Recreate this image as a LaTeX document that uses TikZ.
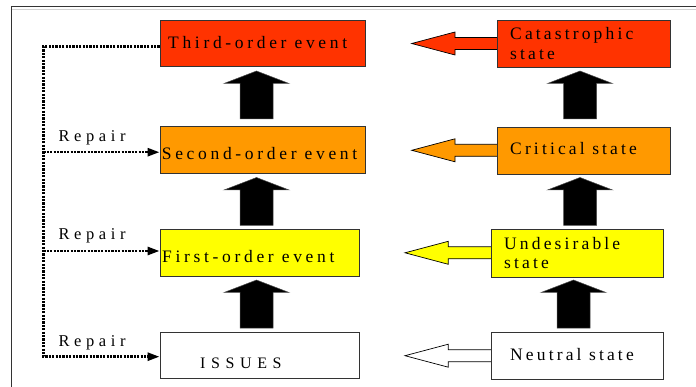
\documentclass[tikz,border=0pt]{standalone}
\usepackage{fontspec}
\setmainfont{Liberation Serif}
\usetikzlibrary{arrows.meta}
\definecolor{cred}{HTML}{FF3300}
\definecolor{corange}{HTML}{FF9900}
\definecolor{cyellow}{HTML}{FFFF00}
\definecolor{cborder}{HTML}{333333}
\tikzset{
  box/.style={draw=cborder, line width=0.9pt, inner sep=0pt, rectangle},
  lbl/.style={font=\fontsize{17.5}{21}\selectfont\addfontfeature{LetterSpace=18}, anchor=base west, inner sep=0pt, text=black},
  evlbl/.style={lbl, font=\fontsize{17.5}{21}\selectfont\addfontfeature{LetterSpace=21}},
  replbl/.style={font=\fontsize{16.5}{20}\selectfont\addfontfeature{LetterSpace=28}, anchor=base west, inner sep=0pt, text=black},
  repair/.style={line width=2.6pt, dash pattern=on 2.2pt off 1.2pt, black},
  repairarr/.style={repair, -{Triangle[length=12pt,width=8pt]}},
  uparr/.pic={\fill[black, draw=black!70, line width=0.5pt] (-16.5,48) -- (-16.5,12.5) -- (-32.5,12.5) -- (0,0) -- (32.5,12.5) -- (16.5,12.5) -- (16.5,48) -- cycle;},
  leftarr/.pic={\filldraw[fill=\pgfkeysvalueof{/tikz/arrfill}, draw=black, line width=0.7pt] (0,0) -- (43.3,-11.5) -- (43.3,-6) -- (87,-6) -- (87,6) -- (43.3,6) -- (43.3,11.5) -- cycle;},
  arrfill/.initial=white
}
\begin{document}
\begin{tikzpicture}[x=1pt,y=-1pt]
\useasboundingbox (0,0) rectangle (696,387);
% frame
\draw[gray!35, line width=0.8pt] (12,9.5) -- (696,9.5);
\draw[black!80, line width=1pt] (11,387) -- (11,7) -- (696,7);

% hollow left arrows (drawn before boxes)
\pic[arrfill=cred] at (411.7,43.5) {leftarr};
\pic[arrfill=corange] at (411.7,150.3) {leftarr};
\pic[arrfill=cyellow] at (405,252.8) {leftarr};
\pic[arrfill=white] at (405,355.7) {leftarr};

% boxes
\node[box, fill=cred, minimum width=205.6pt, minimum height=46pt] (third) at (262.8,43) {};
\node[box, fill=corange, minimum width=205.6pt, minimum height=46.5pt] (second) at (262.8,150.2) {};
\node[box, fill=cyellow, minimum width=199pt, minimum height=47pt] (first) at (259.5,252.5) {};
\node[box, fill=white, minimum width=199pt, minimum height=46pt] (issues) at (259.5,355) {};
\node[box, fill=cred, minimum width=172.3pt, minimum height=47pt] (cat) at (583.8,43.5) {};
\node[box, fill=corange, minimum width=172.3pt, minimum height=47pt] (crit) at (583.8,150.5) {};
\node[box, fill=cyellow, minimum width=171.3pt, minimum height=48pt] (und) at (577.3,253) {};
\node[box, fill=white, minimum width=171.3pt, minimum height=47pt] (neut) at (577.3,355.5) {};

% texts
\node[evlbl] (t3) at (168,48.3) {Third-order event};
\node[evlbl] (t2) at (161.7,159.3) {Second-order event};
\node[evlbl] (t1) at (162,262.7) {First-order event};
\node[lbl, font=\fontsize{16}{19}\selectfont\addfontfeature{LetterSpace=35}] (t0) at (200,368) {ISSUES};
\node[lbl] (tc1) at (510,40) {Catastrophic};
\node[lbl] (tc2) at (510,60) {state};
\node[lbl] (tcr) at (510,155) {Critical state};
\node[lbl] (tu1) at (504,249.3) {Undesirable};
\node[lbl] (tu2) at (504,269) {state};
\node[lbl] (tn) at (510,360) {Neutral state};

% black up arrows
\pic at (256.5,71) {uparr};
\pic at (256.5,177.5) {uparr};
\pic at (256.5,280) {uparr};
\pic at (580,71) {uparr};
\pic at (580,177.5) {uparr};
\pic at (573.5,280) {uparr};

% repair connectors
\coordinate (rail) at (43.3,46.7);
\draw[repairarr] (rail -| third.west) -- (rail) |- ([yshift=-1.7pt]issues.west);
\draw[repairarr] (rail |- second.west) ++(0,2) -- ([yshift=-2pt]second.west);
\draw[repairarr] (rail |- first.west) ++(0,-1.5) -- ([yshift=1.5pt]first.west);

\node[replbl] (r2) at (58.3,141.7) {Repair};
\node[replbl] (r1) at (58.3,240) {Repair};
\node[replbl] (r0) at (58.3,346.7) {Repair};
\end{tikzpicture}
\end{document}
